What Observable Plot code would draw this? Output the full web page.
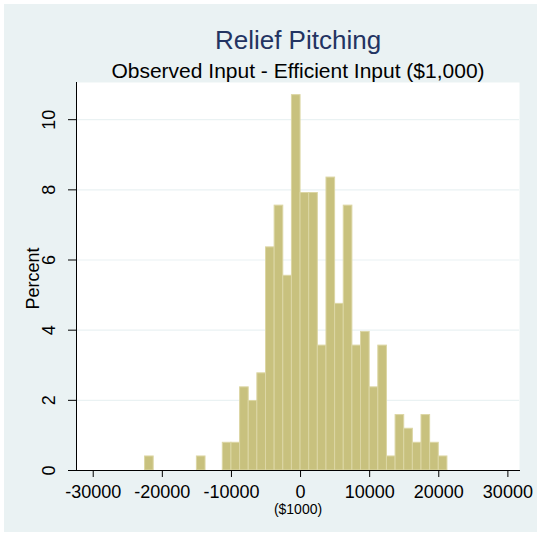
<!DOCTYPE html>
<html>
<head>
<meta charset="utf-8">
<script src="https://cdn.jsdelivr.net/npm/d3@7"></script>
<script src="https://cdn.jsdelivr.net/npm/@observablehq/plot@0.6"></script>
<style>
  html, body { margin: 0; padding: 0; background: #ffffff; }
  #wrap { position: relative; width: 539px; height: 535px; overflow: hidden; }
  #bg { position: absolute; left: 4px; top: 4px; right: 2px; bottom: 3px; background: #EAF2F3; }
  #chart { position: absolute; left: 0; top: 0; }
  #chart svg { background: transparent; }
</style>
</head>
<body>
<div id="wrap"><div id="bg"></div><div id="chart"></div></div>
<script>
// Data (bin width $1,250)
const binWidth = 1250;
const binStart = [-22500, -15000, -11250, -10000, -8750, -7500, -6250, -5000, -3750, -2500, -1250,
                  0, 1250, 2500, 3750, 5000, 6250, 7500, 8750, 10000, 11250, 12500, 13750, 15000,
                  16250, 17500, 18750, 20000];
const percent = [0.40, 0.40, 0.79, 0.79, 2.37, 1.98, 2.77, 6.36, 7.55, 5.55, 10.70,
                 7.91, 7.91, 3.56, 8.35, 4.75, 7.55, 3.56, 3.95, 2.37, 3.56, 0.40, 1.58, 1.19,
                 0.79, 1.58, 0.79, 0.40];
const xTicks = [-30000, -20000, -10000, 0, 10000, 20000, 30000];
const yTicks = [0, 2, 4, 6, 8, 10];
const gridTicks = [2, 4, 6, 8, 10];
const titleText = "Relief Pitching";
const subtitleText = "Observed Input - Efficient Input ($1,000)";
const xLabel = "($1000)";
const yLabel = "Percent";

const bins = binStart.map((s, i) => ({x1: s, x2: s + binWidth, pct: percent[i]}));

const font = "Liberation Sans, Arial, Helvetica, sans-serif";

const chart = Plot.plot({
  width: 539,
  height: 535,
  marginLeft: 76,
  marginRight: 20,
  marginTop: 82,
  marginBottom: 65,
  style: {fontFamily: font, color: "#000", background: "transparent", overflow: "visible"},
  x: {domain: [-32420, 31680]},
  y: {domain: [0, 11.06]},
  marks: [
    Plot.frame({fill: "#ffffff", stroke: null}),
    Plot.gridY(gridTicks, {stroke: "#EAF2F3", strokeOpacity: 1, strokeWidth: 1.2}),
    Plot.rectY(bins, {x1: "x1", x2: "x2", y: "pct", fill: "#C8C17E", stroke: "#DCD6A4", strokeWidth: 1}),
    Plot.frame({anchor: "left", stroke: "#000", strokeWidth: 1}),
    Plot.frame({anchor: "bottom", stroke: "#000", strokeWidth: 1}),
    Plot.axisX({ticks: xTicks, tickSize: 7, tickPadding: 8, fontSize: 18, tickFormat: d => String(d), label: null, stroke: "#000"}),
    Plot.axisY({ticks: yTicks, tickSize: 8, tickPadding: 14, fontSize: 18, tickRotate: -90, tickFormat: d => String(d), label: null, stroke: "#000"}),
    Plot.text([xLabel], {text: d => d, frameAnchor: "bottom", dy: 43, fontSize: 14, fill: "#000"}),
    Plot.text([yLabel], {text: d => d, frameAnchor: "left", textAnchor: "middle", lineAnchor: "middle", dx: -43, dy: 2, rotate: -90, fontSize: 18, fill: "#000"}),
    Plot.text([titleText], {text: d => d, frameAnchor: "top", lineAnchor: "bottom", dy: -34, fontSize: 26, fill: "#233462"}),
    Plot.text([subtitleText], {text: d => d, frameAnchor: "top", lineAnchor: "bottom", dy: -5, fontSize: 21, fill: "#000"})
  ]
});
document.getElementById("chart").appendChild(chart);
</script>
</body>
</html>
